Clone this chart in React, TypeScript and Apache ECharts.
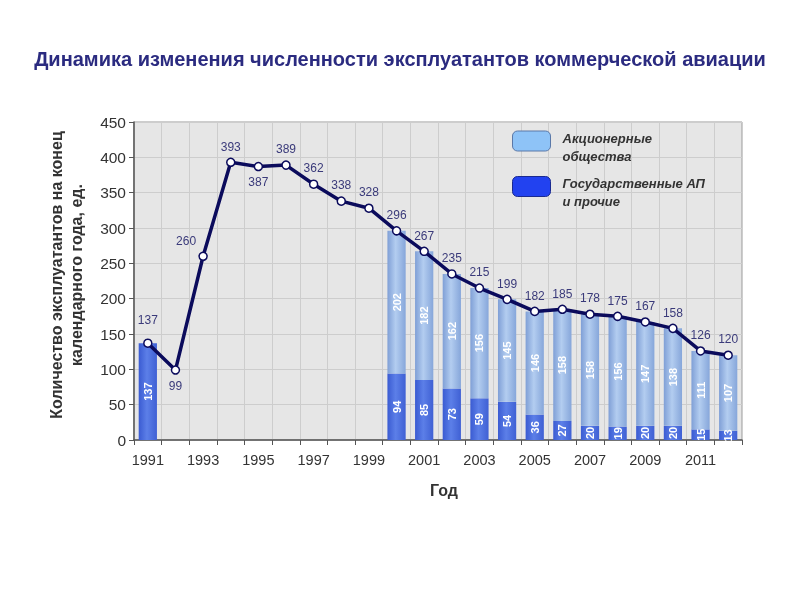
import React, { useEffect, useRef } from "react";
import * as echarts from "echarts";

const years = ["1991","1992","1993","1994","1995","1996","1997","1998","1999","2000","2001","2002","2003","2004","2005","2006","2007","2008","2009","2010","2011","2012"];
const stateValues = [137, null, null, null, null, null, null, null, null, 94, 85, 73, 59, 54, 36, 27, 20, 19, 20, 20, 15, 13];
const jscValues = [null, null, null, null, null, null, null, null, null, 202, 182, 162, 156, 145, 146, 158, 158, 156, 147, 138, 111, 107];
const totalValues = [137, 99, 260, 393, 387, 389, 362, 338, 328, 296, 267, 235, 215, 199, 182, 185, 178, 175, 167, 158, 126, 120];

const NAME_JSC = "Акционерные общества";
const NAME_STATE = "Государственные АП и прочие";
const LEGEND_JSC = ["Акционерные", "общества"];
const LEGEND_STATE = ["Государственные АП", "и прочие"];
const TITLE = "Динамика изменения численности эксплуатантов коммерческой авиации";
const Y_NAME = "Количество эксплуатантов на конец\nкалендарного года, ед.";
const X_NAME = "Год";

export default function App() {
  const ref = useRef<HTMLDivElement>(null);
  useEffect(() => {
    if (!ref.current) return;
    const chart = echarts.init(ref.current, undefined, { renderer: "svg" });
    const font = "Liberation Sans, Arial, sans-serif";
    const jscGrad = new echarts.graphic.LinearGradient(0, 0, 1, 0, [
      { offset: 0, color: "#7f9fd6" },
      { offset: 0.45, color: "#b3cdf0" },
      { offset: 1, color: "#86a6da" },
    ]);
    const stateGrad = new echarts.graphic.LinearGradient(0, 0, 1, 0, [
      { offset: 0, color: "#3a5bd2" },
      { offset: 0.45, color: "#5c7fe8" },
      { offset: 1, color: "#3f60d4" },
    ]);
    const labelPos: Record<number, any> = {
      0: { position: "top", distance: 12 },
      1: { position: "bottom" },
      2: { position: "top", offset: [-17, 0] },
      4: { position: "bottom" },
    };
    const lineData = totalValues.map((v, i) => {
      const p = labelPos[i];
      return p ? { value: v, label: p } : v;
    });
    const barLabel = {
      show: true,
      position: "inside",
      rotate: 90,
      color: "#ffffff",
      fontSize: 11,
      fontWeight: "bold",
      fontFamily: font,
    };
    const legendText = (lines: string[]) => "{e| }\n" + lines.map((l) => "{t|" + l + "}").join("\n");
    chart.setOption({
      animation: false,
      title: {
        text: TITLE,
        left: "center",
        top: 44,
        textStyle: { fontSize: 20, fontWeight: "bold", color: "#2b2b80", fontFamily: font },
      },
      legend: {
        orient: "vertical",
        left: 507,
        top: 115,
        itemWidth: 38,
        itemHeight: 20,
        itemGap: 3,
        selectedMode: false,
        data: [
          { name: NAME_JSC, itemStyle: { color: "#8ec3f7", borderColor: "#5a78a8", borderWidth: 1 } },
          { name: NAME_STATE, itemStyle: { color: "#2242f0", borderColor: "#1a2a90", borderWidth: 1 } },
        ],
        formatter: (n: string) => legendText(n === NAME_JSC ? LEGEND_JSC : LEGEND_STATE),
        textStyle: {
          fontSize: 13,
          fontStyle: "italic",
          fontWeight: "bold",
          color: "#333",
          fontFamily: font,
          rich: {
            e: { lineHeight: 12, fontSize: 6 },
            t: { lineHeight: 18, fontSize: 13, fontStyle: "italic", fontWeight: "bold", color: "#333", fontFamily: font, padding: [0, 0, 0, 7] },
          },
        },
      },
      grid: { left: 134, right: 58, top: 122, bottom: 160, show: true, backgroundColor: "#e6e6e6", borderColor: "#9a9a9a", borderWidth: 1 },
      xAxis: {
        type: "category",
        data: years,
        boundaryGap: true,
        name: X_NAME,
        nameLocation: "middle",
        nameGap: 42,
        nameTextStyle: { fontSize: 16, fontWeight: "bold", color: "#333", fontFamily: font, padding: [0, 0, 0, 12] },
        axisLine: { lineStyle: { color: "#555", width: 1.5 } },
        axisTick: { show: true, interval: 0, length: 5, lineStyle: { color: "#555" } },
        axisLabel: { interval: 1, fontSize: 14.5, color: "#333", fontFamily: font, margin: 12 },
        splitLine: { show: true, interval: 0, lineStyle: { color: "#cdcdcd" } },
      },
      yAxis: {
        type: "value",
        min: 0,
        max: 450,
        interval: 50,
        name: Y_NAME,
        nameLocation: "middle",
        nameGap: 48,
        nameTextStyle: { fontSize: 16, fontWeight: "bold", color: "#333", fontFamily: font, lineHeight: 20, padding: [0, 0, 0, 12] },
        axisLine: { show: true, lineStyle: { color: "#555", width: 1.5 } },
        axisTick: { show: true, length: 5, lineStyle: { color: "#555" } },
        axisLabel: { fontSize: 15.5, color: "#333", fontFamily: font, margin: 8 },
        splitLine: { show: true, lineStyle: { color: "#cdcdcd" } },
      },
      series: [
        {
          name: NAME_STATE,
          type: "bar",
          stack: "s",
          barWidth: "66%",
          data: stateValues,
          itemStyle: { color: stateGrad },
          label: barLabel,
        },
        {
          name: NAME_JSC,
          type: "bar",
          stack: "s",
          data: jscValues,
          itemStyle: { color: jscGrad },
          label: barLabel,
        },
        {
          name: "Всего",
          type: "line",
          data: lineData,
          z: 5,
          symbol: "circle",
          symbolSize: 8,
          lineStyle: { color: "#0b0b5c", width: 3.5 },
          itemStyle: { color: "#ffffff", borderColor: "#0b0b5c", borderWidth: 1.5 },
          label: { show: true, position: "top", color: "#3a3a7a", fontSize: 12, fontFamily: font },
        },
      ],
    });
    return () => chart.dispose();
  }, []);
  return <div ref={ref} style={{ position: "fixed", left: 0, top: 0, width: 800, height: 600 }} />;
}
